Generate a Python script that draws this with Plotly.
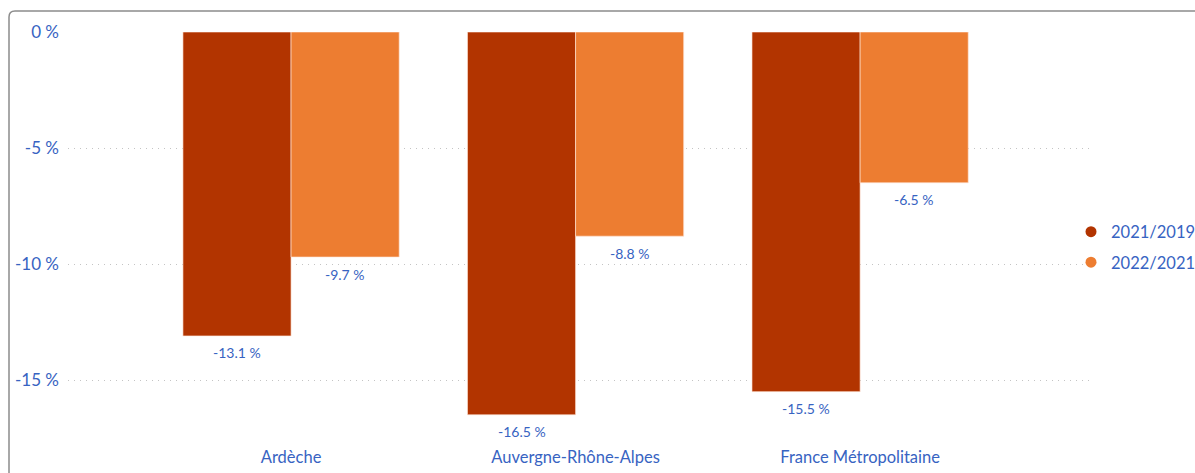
import plotly.graph_objects as go

categories = ["Ardèche", "Auvergne-Rhône-Alpes", "France Métropolitaine"]
series_names = ["2021/2019", "2022/2021"]
values_2021_2019 = [-13.1, -16.5, -15.5]
values_2022_2021 = [-9.7, -8.8, -6.5]
tick_vals = [0, -5, -10, -15]
tick_text = ["0 %", "-5 %", "-10 %", "-15 %"]

dark = "#B23400"
light = "#ED7D31"
blue = "#3763C2"
FONT = "Lato, Carlito, Calibri, sans-serif"

W, H = 1195, 473
ml, mr, mt, mb = 68, 105, 32, 28

fig = go.Figure()
for i, (name, vals, col) in enumerate([(series_names[0], values_2021_2019, dark),
                                       (series_names[1], values_2022_2021, light)]):
    fig.add_trace(go.Bar(
        x=categories, y=vals, name=name, showlegend=False,
        marker=dict(color=col, line=dict(color="rgba(255,230,215,0.8)", width=0.8)),
        hoverinfo="skip",
    ))
    # legend entries with round markers
    fig.add_trace(go.Scatter(
        x=[None], y=[None], mode="markers", name=name, legendgroup=f"g{i}",
        marker=dict(color=col, size=11, symbol="circle"),
    ))

# data labels below bar ends
annotations = []
for vals, shift in [(values_2021_2019, -54), (values_2022_2021, 54)]:
    for c, v in zip(categories, vals):
        annotations.append(dict(
            x=c, y=v, xref="x", yref="y", text=f"{v:.1f} %",
            showarrow=False, xshift=shift, yshift=-17,
            font=dict(family=FONT, size=14, color=blue),
        ))

pw = W - ml - mr
ph = H - mt - mb
def px_x(p):
    return (p - ml) / pw
def px_y(p):
    return (H - mb - p) / ph

# frame (top-left rounded border, cut off right and bottom)
x0, y0, r = 9, 11, 6
path = (f"M {px_x(x0)} {px_y(H + 20)} L {px_x(x0)} {px_y(y0 + r)} "
        f"Q {px_x(x0)} {px_y(y0)} {px_x(x0 + r)} {px_y(y0)} "
        f"L {px_x(W + 20)} {px_y(y0)}")

fig.update_layout(
    width=W, height=H,
    margin=dict(l=ml, r=mr, t=mt, b=mb, autoexpand=False),
    paper_bgcolor="white", plot_bgcolor="white",
    barmode="group", bargap=0.24, bargroupgap=0,
    font=dict(family=FONT, color=blue),
    annotations=annotations,
    shapes=[dict(type="path", xref="paper", yref="paper", path=path,
                 line=dict(color="#8C8C8C", width=1.5), layer="above")],
    legend=dict(xref="container", yref="container",
                x=1071 / W, y=1 - 247 / H, xanchor="left", yanchor="middle",
                font=dict(family=FONT, size=16.5, color=blue),
                itemwidth=30, tracegroupgap=6, bgcolor="rgba(0,0,0,0)"),
    xaxis=dict(range=[-0.784, 2.808], showgrid=False, zeroline=False,
               showline=False, ticks="", tickfont=dict(size=16.5, color=blue),
               automargin=False, fixedrange=True),
    yaxis=dict(range=[-17.8, 0], tickvals=tick_vals, ticktext=tick_text,
               showgrid=True, gridcolor="#C4C4C4", griddash="1px,5px", gridwidth=1,
               zeroline=False, showline=False, ticks="",
               ticklabelstandoff=8, automargin=False,
               tickfont=dict(size=17, color=blue), fixedrange=True),
)

fig.write_html(
    "out.html",
    config={"displayModeBar": False},
    post_script="document.body.style.margin='0';document.body.style.overflow='hidden';",
)
